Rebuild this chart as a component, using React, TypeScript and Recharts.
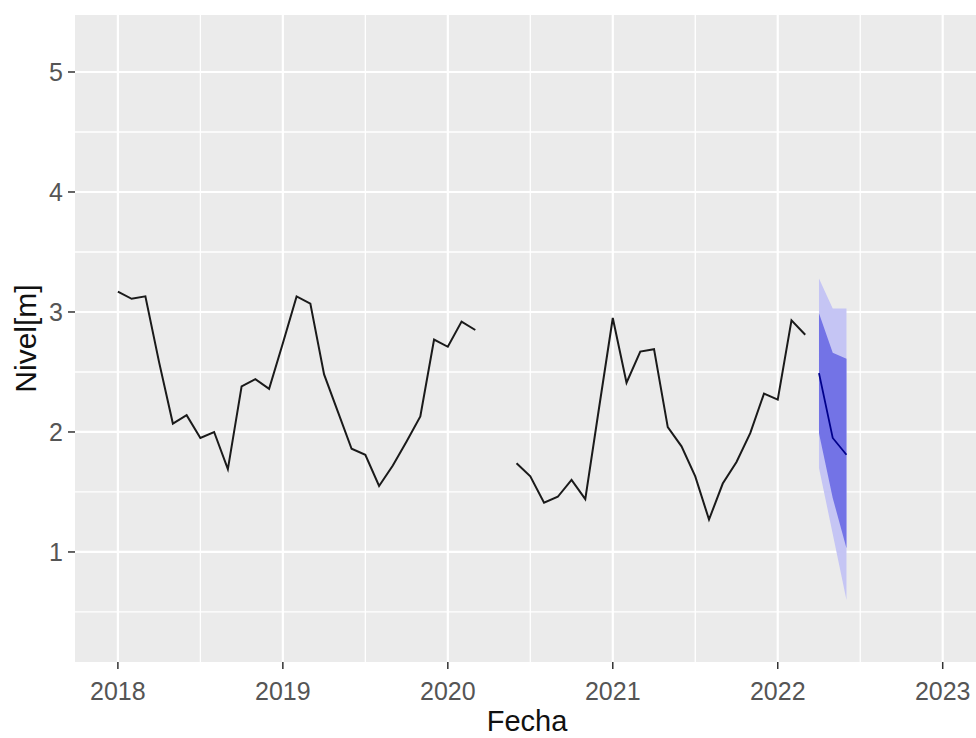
import React from 'react';
import { ComposedChart, Line, Area, XAxis, YAxis, CartesianGrid, Label } from 'recharts';

// monthly level readings, Jan 2018 .. Mar 2022 (null = no reading)
const startYear = 2018;
const observed: (number | null)[] = [
  3.17, 3.11, 3.13, 2.58, 2.07, 2.14, 1.95, 2.0, 1.69, 2.38, 2.44, 2.36,
  2.74, 3.13, 3.07, 2.48, 2.17, 1.86, 1.81, 1.55, 1.72, 1.92, 2.13, 2.77,
  2.71, 2.92, 2.85, null, null, 1.74, 1.63, 1.41, 1.46, 1.6, 1.44, 2.2,
  2.95, 2.41, 2.67, 2.69, 2.04, 1.88, 1.63, 1.27, 1.57, 1.75, 1.99, 2.32,
  2.27, 2.93, 2.81,
];

// forecast Apr..Jun 2022
const fcMean = [2.49, 1.95, 1.81];
const fcLo80 = [1.99, 1.45, 1.03];
const fcHi80 = [2.99, 2.66, 2.61];
const fcLo95 = [1.7, 1.15, 0.6];
const fcHi95 = [3.28, 3.03, 3.03];

const xTicks = [2018, 2019, 2020, 2021, 2022, 2023];
const xMinor = [2018.5, 2019.5, 2020.5, 2021.5, 2022.5];
const yTicks = [1, 2, 3, 4, 5];
const yMinor = [0.5, 1.5, 2.5, 3.5, 4.5];

const table = (() => {
  const rows: Record<string, unknown>[] = [];
  const total = observed.length + fcMean.length;
  for (let i = 0; i < total; i++) {
    const j = i - observed.length;
    const inFc = j >= 0;
    rows.push({
      t: startYear + i / 12,
      obs: inFc ? null : observed[i],
      mean: inFc ? fcMean[j] : null,
      band80: inFc ? [fcLo80[j], fcHi80[j]] : null,
      band95: inFc ? [fcLo95[j], fcHi95[j]] : null,
    });
  }
  return rows;
})();

const FONT = '"Liberation Sans", Arial, sans-serif';
const tickStyle = { fill: '#555', fontSize: 25, fontFamily: FONT };

const YTitle = (props: any) => {
  const vb = props.viewBox || { x: 0, y: 15, width: 75, height: 647 };
  const cx = vb.x + 35.5;
  const cy = vb.y + vb.height / 2;
  return (
    <text x={cx} y={cy} transform={`rotate(-90, ${cx}, ${cy})`} textAnchor="middle" fill="#111" fontSize={30} fontFamily={FONT}>
      Nivel[m]
    </text>
  );
};

const XTitle = (props: any) => {
  const vb = props.viewBox || { x: 75, y: 662, width: 904, height: 76 };
  return (
    <text x={vb.x + vb.width / 2} y={731} textAnchor="middle" fill="#111" fontSize={29} fontFamily={FONT}>
      Fecha
    </text>
  );
};

export default function App() {
  return (
    <div style={{ position: 'fixed', left: 0, top: 0, width: 976, height: 738, overflow: 'hidden', background: '#fff' }}>
      <ComposedChart width={1000} height={738} data={table} margin={{ top: 15, right: 21, bottom: 0, left: 0 }}>
        <CartesianGrid fill="#EBEBEB" stroke="#fff" strokeWidth={1.3} horizontalValues={yMinor} verticalValues={xMinor} />
        <CartesianGrid stroke="#fff" strokeWidth={2.2} horizontalValues={yTicks} verticalValues={xTicks} />
        <XAxis
          dataKey="t"
          type="number"
          domain={[2017.74, 2023.22]}
          allowDataOverflow
          ticks={xTicks}
          interval={0}
          height={76}
          axisLine={false}
          tickLine={{ stroke: '#333', strokeWidth: 1.5 }}
          tickSize={7}
          tickMargin={13}
          tick={tickStyle}
        >
          <Label content={XTitle} />
        </XAxis>
        <YAxis
          type="number"
          domain={[0.083, 5.475]}
          allowDataOverflow
          ticks={yTicks}
          interval={0}
          width={75}
          axisLine={false}
          tickLine={{ stroke: '#333', strokeWidth: 1.5 }}
          tickSize={7}
          tickMargin={5}
          tick={tickStyle}
        >
          <Label content={YTitle} />
        </YAxis>
        <Area type="linear" dataKey="band95" stroke="none" fill="#C5C5F4" fillOpacity={1} isAnimationActive={false} dot={false} activeDot={false} />
        <Area type="linear" dataKey="band80" stroke="none" fill="#7373E6" fillOpacity={1} isAnimationActive={false} dot={false} activeDot={false} />
        <Line type="linear" dataKey="obs" stroke="#1a1a1a" strokeWidth={2} dot={false} activeDot={false} isAnimationActive={false} />
        <Line type="linear" dataKey="mean" stroke="#00008B" strokeWidth={1.8} dot={false} activeDot={false} isAnimationActive={false} />
      </ComposedChart>
    </div>
  );
}
